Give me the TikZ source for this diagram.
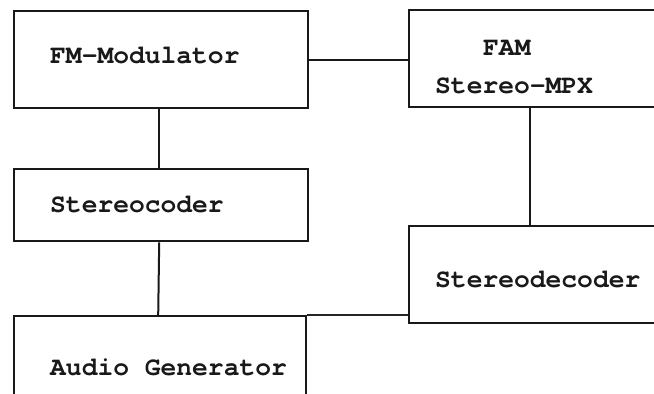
\documentclass[tikz,border=0pt]{standalone}
\usepackage{fontspec}
\newfontfamily\twfont{TeX Gyre Cursor}
\begin{document}
\begin{tikzpicture}[x=1pt,y=-1pt,
  blk/.style={draw=black!90, line width=2.4pt, rectangle, inner sep=0pt, anchor=north west},
  lbl/.style={inner sep=0pt, anchor=base west, font=\twfont\bfseries\fontsize{26.3}{30}\selectfont, text=black!90},
  wire/.style={draw=black!90, line width=2pt},
  thinwire/.style={draw=black!85, line width=1.5pt}]
\clip (0,0) rectangle (654,394);
\fill[white] (0,0) rectangle (654,394);
% boxes
\node[blk, minimum width=294pt, minimum height=97pt] (fm) at (13,10) {};
\node[blk, minimum width=294pt, minimum height=72pt] (sc) at (13,168) {};
\node[blk, minimum width=292pt, minimum height=110pt] (ag) at (13,315) {};
\node[blk, minimum width=280pt, minimum height=97pt] (fam) at (408,9) {};
\node[blk, minimum width=280pt, minimum height=97pt] (sd) at (408,225) {};
% labels
\node[lbl] (fmt) at (50,63) {FM-Modulator};
\node[lbl] (sct) at (50,212) {Stereocoder};
\node[lbl] (agt) at (50,375) {Audio Generator};
\node[lbl] (famt) at (483,55) {FAM};
\node[lbl] (mpxt) at (435,93) {Stereo-MPX};
\node[lbl] (sdt) at (435,287) {Stereodecoder};
% connectors
\draw[wire] (fm.east) -- (fm.east -| fam.west);
\draw[wire] ([xshift=-2pt]fm.south) -- ([xshift=-2pt]sc.north);
\draw[wire] ([xshift=-2pt]sc.south) -- ([xshift=-2pt]ag.north);
\draw[wire] ([xshift=122pt]fam.south west) -- ([xshift=122pt]sd.north west);
\draw[thinwire] (ag.north east) -- (ag.north east -| sd.west);
\end{tikzpicture}
\end{document}
